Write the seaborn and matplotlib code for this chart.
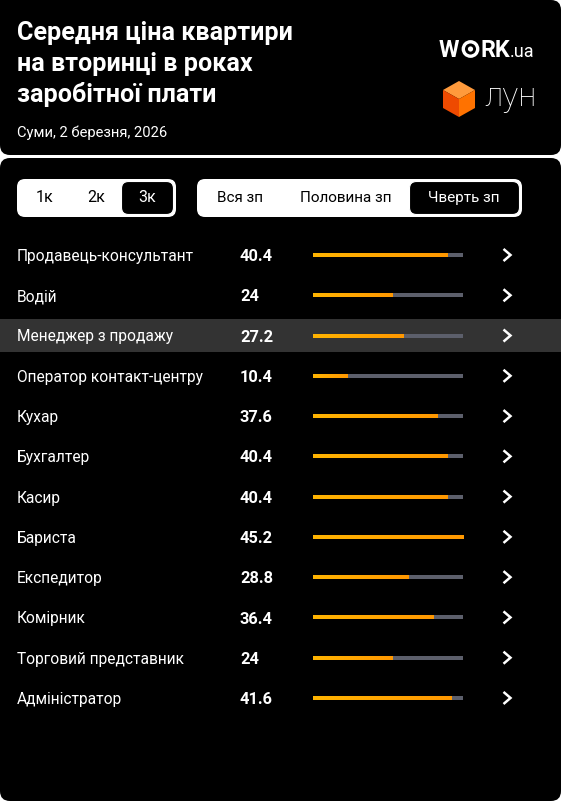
import numpy as np
import matplotlib
matplotlib.use("Agg")
import matplotlib.pyplot as plt
import seaborn as sns
from matplotlib.patches import FancyBboxPatch, Rectangle, Circle, Polygon
from matplotlib import transforms
from matplotlib.colors import LinearSegmentedColormap

# дані
jobs = ["Продавець-консультант", "Водій", "Менеджер з продажу", "Оператор контакт-центру",
        "Кухар", "Бухгалтер", "Касир", "Бариста", "Експедитор", "Комірник",
        "Торговий представник", "Адміністратор"]
years = [40.4, 24, 27.2, 10.4, 37.6, 40.4, 40.4, 45.2, 28.8, 36.4, 24, 41.6]
value_labels = ["40.4", "24", "27.2", "10.4", "37.6", "40.4", "40.4", "45.2", "28.8", "36.4", "24", "41.6"]
rooms = ["1к", "2к", "3к"]
salary_parts = ["Вся зп", "Половина зп", "Чверть зп"]
highlight = "Менеджер з продажу"

sns.set_theme(style="white")
plt.rcParams['font.family'] = ['Roboto', 'DejaVu Sans']

W, H = 561, 801
fig = plt.figure(figsize=(W / 100, H / 100), dpi=100)
fig.patch.set_facecolor("white")

bg = fig.add_axes([0, 0, 1, 1])
bg.set_xlim(0, W)
bg.set_ylim(H, 0)
bg.axis("off")

# панелі
bg.add_patch(FancyBboxPatch((0, 0), W, 155, boxstyle="round,pad=0,rounding_size=10",
                            fc="black", ec="none"))
bg.add_patch(Rectangle((0, 0), 20, 20, fc="black", ec="none"))
bg.add_patch(FancyBboxPatch((0, 158), W, H - 158, boxstyle="round,pad=0,rounding_size=10",
                            fc="black", ec="none"))

# заголовок
title_lines = ["Середня ціна квартири", "на вторинці в роках", "заробітної плати"]
for line, yb in zip(title_lines, [40, 71, 102]):
    bg.text(17, yb, line, color="white", fontsize=18.1, fontweight="bold", va="baseline")
bg.text(17, 137, "Суми, 2 березня, 2026", color="white", fontsize=10.6, va="baseline")

# логотип WORK.ua
bg.text(439, 57.3, "W", color="white", fontsize=16.8, fontweight="bold", va="baseline")
bg.add_patch(Circle((470.5, 49), 7.2, fc="none", ec="white", lw=2.4))
bg.add_patch(Circle((470.5, 49), 2.6, fc="white", ec="none"))
bg.text(481, 57.3, "RK", color="white", fontsize=16.8, fontweight="bold", va="baseline")
bg.text(510, 57.3, ".ua", color="white", fontsize=13, va="baseline")

# логотип ЛУН
cube_top = [(459, 81), (475, 90), (459, 99), (443, 90)]
cube_left = [(443, 90), (459, 99), (459, 117), (443, 108)]
cube_right = [(459, 99), (475, 90), (475, 108), (459, 117)]
bg.add_patch(Polygon(cube_top, closed=True, fc="#ff9a3c", ec="none"))
bg.add_patch(Polygon(cube_left, closed=True, fc="#ee4a00", ec="none"))
bg.add_patch(Polygon(cube_right, closed=True, fc="#ff7200", ec="none"))
bg.text(484, 106, "лун", color="white", fontsize=24, fontweight="light", va="baseline")

# перемикачі
bg.add_patch(FancyBboxPatch((17, 179), 159, 38, boxstyle="round,pad=0,rounding_size=8",
                            fc="white", ec="none"))
bg.add_patch(FancyBboxPatch((121.5, 181.5), 52, 33, boxstyle="round,pad=0,rounding_size=7",
                            fc="black", ec="white", lw=0.8))
for lab, xc in zip(rooms, [45, 96, 147]):
    bg.text(xc, 198, lab, color="white" if lab == "3к" else "black", fontsize=11.5,
            ha="center", va="center")

bg.add_patch(FancyBboxPatch((197, 179), 325, 38, boxstyle="round,pad=0,rounding_size=8",
                            fc="white", ec="none"))
bg.add_patch(FancyBboxPatch((409.5, 181.5), 110, 33, boxstyle="round,pad=0,rounding_size=7",
                            fc="black", ec="white", lw=0.8))
for lab, xc in zip(salary_parts, [240, 346, 464]):
    bg.text(xc, 198, lab, color="white" if lab == "Чверть зп" else "black", fontsize=11,
            ha="center", va="center")

# смуги
row0, step = 255, 40.27
n = len(jobs)
top = row0 - step / 2
ax = fig.add_axes([313 / W, 1 - (top + n * step) / H, 150 / W, n * step / H])
ax.set_facecolor("none")
vmax = max(years)
sns.barplot(x=[vmax] * n, y=jobs, color="#5c5f6b", width=0.1, orient="h", ax=ax,
            saturation=1, linewidth=0, edgecolor="none")
sns.barplot(x=years, y=jobs, color="#ffa500", width=0.1, orient="h", ax=ax, saturation=1,
            linewidth=0, edgecolor="none")
ax.set_xlim(0, vmax)
ax.axis("off")

cmap = LinearSegmentedColormap.from_list("g", ["#ffb400", "#ff9800"])
grad = np.linspace(0, 1, 64).reshape(1, -1)
for p in ax.patches[n:]:
    x0, y0 = p.get_x(), p.get_y()
    w, h = p.get_width(), p.get_height()
    im = ax.imshow(grad, cmap=cmap, aspect="auto", extent=(x0, x0 + w, y0 + h, y0), zorder=3)
    im.set_clip_path(p)
ax.set_xlim(0, vmax)
ax.set_ylim(n - 0.5, -0.5)

tr = transforms.blended_transform_factory(bg.transData, ax.transData)
for i, (job, lab) in enumerate(zip(jobs, value_labels)):
    if job == highlight:
        bg.add_patch(Rectangle((0, i - 0.41), W, 0.82, transform=tr, fc="#333333",
                               ec="none", zorder=1.5))
    bg.text(17, i + 0.035, job, transform=tr, color="white", fontsize=11.2, va="center")
    bg.text(240, i + 0.04, lab, transform=tr, color="white", fontsize=11.8, fontweight="bold",
            va="center")
    bg.plot([503.5, 510.5, 503.5], [i - 0.15, i, i + 0.15], transform=tr, color="white",
            lw=1.8, solid_capstyle="butt", solid_joinstyle="miter")

fig.savefig("out.png", dpi=100, facecolor=fig.get_facecolor())
